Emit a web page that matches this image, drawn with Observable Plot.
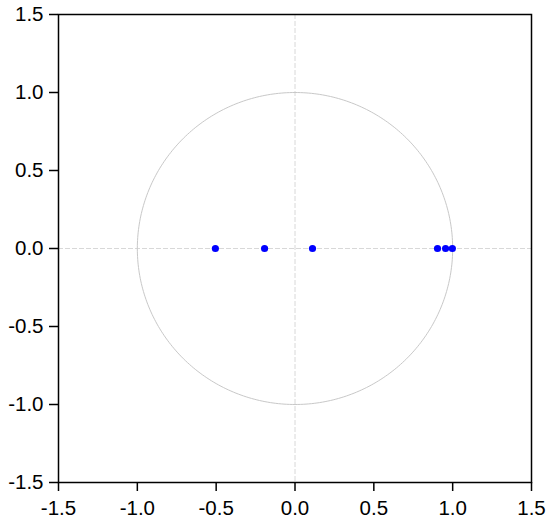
<!DOCTYPE html>
<html>
<head>
<meta charset="utf-8">
<script src="https://cdn.jsdelivr.net/npm/d3@7"></script>
<script src="https://cdn.jsdelivr.net/npm/@observablehq/plot@0.6"></script>
<style>
  body { margin: 0; background: #fff; }
  #chart svg { display: block; }
  #chart svg text { font-size: 20.5px !important; font-family: 'Liberation Sans', Arial, sans-serif !important; }
</style>
</head>
<body>
<div id="chart"></div>
<script>
// Roots (real, imaginary)
const rootRe = [-0.505, -0.193, 0.111, 0.904, 0.955, 0.998];
const rootIm = [0, 0, 0, 0, 0, 0];
const ticks = [-1.5, -1.0, -0.5, 0.0, 0.5, 1.0, 1.5];

const roots = rootRe.map((re, i) => ({re, im: rootIm[i]}));
// unit circle reference curve
const circle = d3.range(0, 361).map(a => ({x: Math.cos(a * Math.PI / 180), y: Math.sin(a * Math.PI / 180)}));

const chart = Plot.plot({
  width: 550,
  height: 521,
  marginLeft: 58,
  marginRight: 19,
  marginTop: 14,
  marginBottom: 39,
  style: {fontFamily: "'Liberation Sans', Arial, sans-serif", fontSize: "20.5px", color: "#000", background: "#fff"},
  x: {domain: [-1.5, 1.5], label: null},
  y: {domain: [-1.5, 1.5], label: null},
  marks: [
    Plot.ruleX([0], {stroke: "#d8d8d8", strokeDasharray: "5,2", strokeWidth: 1}),
    Plot.ruleY([0], {stroke: "#d8d8d8", strokeDasharray: "5,2", strokeWidth: 1}),
    Plot.line(circle, {x: "x", y: "y", stroke: "#c8c8c8", strokeWidth: 1, curve: "linear"}),
    Plot.dot(roots, {x: "re", y: "im", r: 3.6, fill: "#0000ff", stroke: "none"}),
    Plot.frame({stroke: "#000", strokeWidth: 1.5}),
    Plot.axisX({ticks: ticks, tickFormat: d => d.toFixed(1), tickSize: 9, tickPadding: 9, stroke: "#000", strokeWidth: 1.5, fill: "#000", label: null}),
    Plot.axisY({ticks: ticks, tickFormat: d => d.toFixed(1), tickSize: 9, tickPadding: 6, stroke: "#000", strokeWidth: 1.5, fill: "#000", label: null})
  ]
});
document.getElementById("chart").appendChild(chart);
</script>
</body>
</html>
